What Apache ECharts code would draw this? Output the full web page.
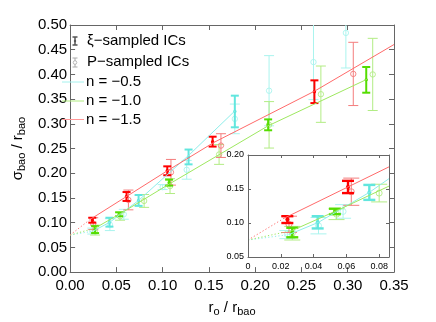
<!DOCTYPE html>
<html><head><meta charset="utf-8">
<script src="https://cdn.jsdelivr.net/npm/echarts@6/dist/echarts.min.js"></script>
<style>html,body{margin:0;padding:0;background:#fff}#c{width:436px;height:322px}</style>
</head><body><div id="c"></div>
<script>
// ---------------- data ----------------
const mainXTickLabels = ['0.00','0.05','0.10','0.15','0.20','0.25','0.30','0.35'];
const mainYTickLabels = ['0.00','0.05','0.10','0.15','0.20','0.25','0.30','0.35','0.40','0.45','0.50'];
const insetXTickLabels = ['0','0.02','0.04','0.06','0.08'];
const insetYTickLabels = ['0.05','0.10','0.15','0.20'];

// n = -1.5 (red)
const redXiX = [0.024, 0.061, 0.105, 0.154, 0.264];
const redXiY = [0.105, 0.153, 0.205, 0.264, 0.365];
const redXiE = [0.005, 0.009, 0.009, 0.010, 0.023];
const redPX = [0.025, 0.063, 0.109, 0.163, 0.306];
const redPY = [0.098, 0.146, 0.202, 0.256, 0.401];
const redPE = [0.012, 0.020, 0.026, 0.024, 0.064];
const redLineX = [0.022, 0.105, 0.155, 0.264, 0.35];
const redLineY = [0.107, 0.205, 0.262, 0.366, 0.4605];

// n = -1.0 (green)
const greenXiX = [0.027, 0.053, 0.107, 0.214, 0.320];
const greenXiY = [0.086, 0.117, 0.181, 0.298, 0.389];
const greenXiE = [0.007, 0.004, 0.006, 0.011, 0.026];
const greenPX = [0.027, 0.054, 0.080, 0.108, 0.161, 0.215, 0.271, 0.327];
const greenPY = [0.085, 0.113, 0.144, 0.174, 0.238, 0.298, 0.360, 0.400];
const greenPE = [0.010, 0.008, 0.013, 0.015, 0.020, 0.047, 0.057, 0.073];
const greenLineX = [0.027, 0.054, 0.107, 0.214, 0.3206];
const greenLineY = [0.089, 0.118, 0.178, 0.296, 0.390];

// n = -0.5 (cyan)
const cyanXiX = [0.0425, 0.074, 0.128, 0.178];
const cyanXiY = [0.101, 0.145, 0.233, 0.325];
const cyanXiE = [0.009, 0.011, 0.015, 0.032];
const cyanPX = [0.024, 0.043, 0.058, 0.100, 0.126, 0.178, 0.215, 0.263, 0.298];
const cyanPY = [0.083, 0.096, 0.117, 0.172, 0.207, 0.310, 0.367, 0.425, 0.484];
const cyanPE = [0.006, 0.012, 0.010, 0.005, 0.019, 0.030, 0.071, 0.076, 0.071];
const cyanLineX = [0.025, 0.043, 0.074, 0.128, 0.178];
const cyanLineY = [0.083, 0.101, 0.145, 0.236, 0.326];

// common extrapolation point of the dotted segments
const originX = 0;
const originY = 0.075;

// ---------------- styling ----------------
const F = '"Liberation Sans", Arial, Helvetica, sans-serif';
const AX = '#666';
const C = {
  redXi: '#ff0000', redP: '#f47c7c', redLine: '#ff6a6a',
  greenXi: '#55dd00', greenP: '#b2ec84', greenLine: '#9ee860',
  cyanXi: '#62e6de', cyanP: '#aaf4ee', cyanLine: '#8eeeea'
};

function pairs(xs, ys) { return xs.map((x, i) => [x, ys[i]]); }
function triples(xs, ys, es) { return xs.map((x, i) => [x, ys[i], es[i]]); }

function errSeries(xs, ys, es, color, filled, ax) {
  const inset = ax === 2;
  const hw = inset ? (filled ? 6 : 8) : (filled ? 4 : 5);
  const lw = filled ? (inset ? 2.4 : 2) : 1;
  return {
    type: 'custom', xAxisIndex: ax, yAxisIndex: ax, clip: true,
    z: inset ? 6 : 2, silent: true,
    data: triples(xs, ys, es),
    renderItem: function (params, api) {
      const x = api.value(0), y = api.value(1), e = api.value(2);
      const c = api.coord([x, y]), t = api.coord([x, y + e]), b = api.coord([x, y - e]);
      const st = { stroke: color, lineWidth: lw, fill: null };
      const kids = [
        { type: 'line', shape: { x1: c[0], y1: t[1], x2: c[0], y2: b[1] }, style: st },
        { type: 'line', shape: { x1: c[0] - hw, y1: t[1], x2: c[0] + hw, y2: t[1] }, style: st },
        { type: 'line', shape: { x1: c[0] - hw, y1: b[1], x2: c[0] + hw, y2: b[1] }, style: st },
        filled
          ? { type: 'circle', shape: { cx: c[0], cy: c[1], r: inset ? 2 : 1.7 }, style: { fill: color } }
          : { type: 'circle', shape: { cx: c[0], cy: c[1], r: inset ? 3 : 2.7 }, style: { stroke: color, fill: 'none', lineWidth: 0.9 } }
      ];
      return { type: 'group', children: kids };
    }
  };
}

function lineSeries(xs, ys, color, ax) {
  return {
    type: 'line', xAxisIndex: ax, yAxisIndex: ax, data: pairs(xs, ys),
    symbol: 'none', showSymbol: false, clip: true, silent: true,
    z: ax === 2 ? 6 : 2,
    lineStyle: { color: color, width: 1 }
  };
}
function dotSeries(xs, ys, color, ax) {
  return {
    type: 'line', xAxisIndex: ax, yAxisIndex: ax,
    data: [[originX, originY], [xs[0], ys[0]]],
    symbol: 'none', showSymbol: false, clip: true, silent: true,
    z: ax === 2 ? 6 : 2,
    lineStyle: { color: color, width: 1, type: [1.2, 2.2] }
  };
}

function allSeries(ax) {
  return [
    errSeries(cyanPX, cyanPY, cyanPE, C.cyanP, false, ax),
    errSeries(greenPX, greenPY, greenPE, C.greenP, false, ax),
    errSeries(redPX, redPY, redPE, C.redP, false, ax),
    dotSeries(cyanLineX, cyanLineY, C.cyanLine, ax),
    dotSeries(greenLineX, greenLineY, C.greenLine, ax),
    dotSeries(redLineX, redLineY, C.redLine, ax),
    lineSeries(cyanLineX, cyanLineY, C.cyanLine, ax),
    lineSeries(greenLineX, greenLineY, C.greenLine, ax),
    lineSeries(redLineX, redLineY, C.redLine, ax),
    errSeries(cyanXiX, cyanXiY, cyanXiE, C.cyanXi, true, ax),
    errSeries(greenXiX, greenXiY, greenXiE, C.greenXi, true, ax),
    errSeries(redXiX, redXiY, redXiE, C.redXi, true, ax)
  ];
}

const rich = {
  m: { fontSize: 15, fontFamily: F, color: '#000', lineHeight: 18 },
  s: { fontSize: 11, fontFamily: F, color: '#000', lineHeight: 18, padding: [8, 0, 0, 0] }
};

function axisBase(extra) {
  return Object.assign({
    type: 'value',
    axisLine: { show: true, onZero: false, lineStyle: { color: AX, width: 1 } },
    splitLine: { show: false }
  }, extra);
}

const option = {
  animation: false,
  backgroundColor: '#fff',
  grid: [
    { left: 61, top: 25, width: 333, height: 259, show: false },
    { left: 248, top: 155, width: 141, height: 102, show: true, backgroundColor: '#fff', borderWidth: 0, z: 5 }
  ],
  xAxis: [
    axisBase({ gridIndex: 0, min: 0, max: 0.35, interval: 0.05, position: 'bottom',
      axisTick: { inside: true, length: 5, lineStyle: { color: AX } },
      axisLabel: { color: '#000', fontSize: 15, fontFamily: F, margin: 6,
        formatter: v => mainXTickLabels[Math.round(v / 0.05)] },
      name: '{m|r}{s|o}{m| / r}{s|bao}', nameLocation: 'middle', nameGap: 17,
      nameTextStyle: { rich: rich } }),
    axisBase({ gridIndex: 0, min: 0, max: 0.35, interval: 0.05, position: 'top',
      axisTick: { inside: true, length: 5, lineStyle: { color: AX } },
      axisLabel: { show: false } }),
    axisBase({ gridIndex: 1, min: 0, max: 0.086, interval: 0.02, position: 'bottom', z: 7,
      axisTick: { inside: true, length: 3, lineStyle: { color: AX } },
      axisLabel: { color: '#000', fontSize: 9, fontFamily: F, margin: 5, showMaxLabel: false,
        formatter: v => insetXTickLabels[Math.round(v / 0.02)] } }),
    axisBase({ gridIndex: 1, min: 0, max: 0.086, interval: 0.02, position: 'top', z: 7,
      axisTick: { inside: true, length: 3, lineStyle: { color: AX } },
      axisLabel: { show: false } })
  ],
  yAxis: [
    axisBase({ gridIndex: 0, min: 0, max: 0.5, interval: 0.05, position: 'left',
      axisTick: { inside: true, length: 5, lineStyle: { color: AX } },
      axisLabel: { color: '#000', fontSize: 15, fontFamily: F, margin: 3,
        formatter: v => mainYTickLabels[Math.round(v / 0.05)] },
      name: '{m|σ}{s|bao}{m| / r}{s|bao}', nameLocation: 'middle', nameGap: 33,
      nameTextStyle: { rich: rich } }),
    axisBase({ gridIndex: 0, min: 0, max: 0.5, interval: 0.05, position: 'right',
      axisTick: { inside: true, length: 5, lineStyle: { color: AX } },
      axisLabel: { show: false } }),
    axisBase({ gridIndex: 1, min: 0.05, max: 0.2, interval: 0.05, position: 'left', z: 7,
      axisTick: { inside: true, length: 3, lineStyle: { color: AX } },
      axisLabel: { color: '#000', fontSize: 9, fontFamily: F, margin: 4,
        formatter: v => insetYTickLabels[Math.round((v - 0.05) / 0.05)] } }),
    axisBase({ gridIndex: 1, min: 0.05, max: 0.2, interval: 0.05, position: 'right', z: 7,
      axisTick: { inside: true, length: 3, lineStyle: { color: AX } },
      axisLabel: { show: false } })
  ],
  series: allSeries(0).concat(allSeries(2)),
  graphic: [
    // legend: xi-sampled icon
    { type: 'line', z: 20, shape: { x1: 75, y1: 37, x2: 75, y2: 45 }, style: { stroke: '#555', lineWidth: 1.5 } },
    { type: 'line', z: 20, shape: { x1: 72.5, y1: 37, x2: 77.5, y2: 37 }, style: { stroke: '#555', lineWidth: 1.5 } },
    { type: 'line', z: 20, shape: { x1: 72.5, y1: 45, x2: 77.5, y2: 45 }, style: { stroke: '#555', lineWidth: 1.5 } },
    { type: 'circle', z: 20, shape: { cx: 75, cy: 41, r: 1.2 }, style: { fill: '#555' } },
    { type: 'text', z: 20, x: 87, y: 41, style: { text: 'ξ−sampled ICs', font: '15px ' + F, fill: '#000', verticalAlign: 'middle' } },
    // legend: P-sampled icon
    { type: 'line', z: 20, shape: { x1: 75, y1: 58, x2: 75, y2: 67 }, style: { stroke: '#aaa', lineWidth: 1 } },
    { type: 'line', z: 20, shape: { x1: 72.5, y1: 58, x2: 77.5, y2: 58 }, style: { stroke: '#aaa', lineWidth: 1 } },
    { type: 'line', z: 20, shape: { x1: 72.5, y1: 67, x2: 77.5, y2: 67 }, style: { stroke: '#aaa', lineWidth: 1 } },
    { type: 'circle', z: 20, shape: { cx: 75, cy: 62.5, r: 1.8 }, style: { stroke: '#aaa', fill: '#fff', lineWidth: 0.8 } },
    { type: 'text', z: 20, x: 87, y: 62, style: { text: 'P−sampled ICs', font: '15px ' + F, fill: '#000', verticalAlign: 'middle' } },
    // legend: lines
    { type: 'line', z: 20, shape: { x1: 62, y1: 82, x2: 84, y2: 82 }, style: { stroke: '#a4f2ee', lineWidth: 1 } },
    { type: 'text', z: 20, x: 86, y: 82, style: { text: 'n = −0.5', font: '15px ' + F, fill: '#000', verticalAlign: 'middle' } },
    { type: 'line', z: 20, shape: { x1: 62, y1: 101, x2: 84, y2: 101 }, style: { stroke: '#b0ec80', lineWidth: 1 } },
    { type: 'text', z: 20, x: 86, y: 101, style: { text: 'n = −1.0', font: '15px ' + F, fill: '#000', verticalAlign: 'middle' } },
    { type: 'line', z: 20, shape: { x1: 62, y1: 119.5, x2: 84, y2: 119.5 }, style: { stroke: '#ff9898', lineWidth: 1 } },
    { type: 'text', z: 20, x: 86, y: 119.5, style: { text: 'n = −1.5', font: '15px ' + F, fill: '#000', verticalAlign: 'middle' } }
  ]
};

const chart = echarts.init(document.getElementById('c'), null, { renderer: 'canvas' });
chart.setOption(option);
</script>
</body></html>
